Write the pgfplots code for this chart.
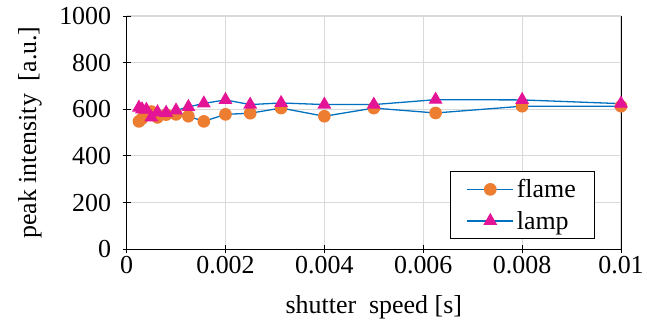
\documentclass[border=0pt]{standalone}
\usepackage{pgfplots}
\pgfplotsset{compat=1.18}
\usepackage{fontspec}
\setmainfont{Liberation Serif}
\newfontfamily\tnr{Liberation Serif}
\definecolor{lineblue}{RGB}{0,112,192}
\definecolor{flameor}{RGB}{237,125,49}
\definecolor{lampmag}{RGB}{228,20,150}
\definecolor{gridgray}{RGB}{217,217,217}
\newcommand{\xl}[1]{\raisebox{-6pt}{#1}}
\newcommand{\yl}[1]{#1\hspace*{8pt}}
\pgfplotsset{mylegend/.style={legend image code/.code={\draw[mark repeat=2,mark phase=2,##1] plot coordinates {(0pt,0pt) (23pt,0pt) (46pt,0pt)};}}}
\begin{document}
\begin{tikzpicture}
\begin{axis}[
  name=a,
  scale only axis,
  width=496pt, height=234pt,
  xmin=0, xmax=0.01, ymin=0, ymax=1000,
  xtick pos=left, ytick pos=left,
  xtick={0,0.002,0.004,0.006,0.008,0.01},
  xticklabels={\xl{0},\xl{0.002},\xl{0.004},\xl{0.006},\xl{0.008},\xl{0.01}},
  ytick={0,200,400,600,800,1000},
  yticklabels={\yl{0},\yl{200},\yl{400},\yl{600},\yl{800},\yl{1000}},
  scaled x ticks=false,
  tick align=center, major tick length=8pt,
  tick style={black, line width=0.8pt},
  axis line style={draw=none},
  grid=major, major grid style={gridgray, line width=1.2pt},
  font=\tnr\fontsize{26}{30}\selectfont,
  every tick label/.append style={font=\tnr\fontsize{26}{30}\selectfont},
  xlabel={shutter\ \ speed [s]},
  ylabel={peak intensity\ \ [a.u.]},
  xlabel style={at={(axis description cs:0.5,0)}, anchor=north, inner sep=0pt, yshift=-46pt},
  ylabel style={at={(axis description cs:0,0.5)}, anchor=south, inner sep=0pt, yshift=85pt},
  legend style={at={(axis cs:0.00948,43)}, anchor=south east, draw=black, line width=1pt,
    font=\tnr\fontsize{26}{30}\selectfont, row sep=10pt, inner xsep=16pt, inner ysep=7pt, fill=white,
    nodes={inner xsep=3pt, inner ysep=1pt}},
  legend cell align=left,
  clip=false,
]
\draw[black, line width=1pt] (axis cs:0,1000) -- (axis cs:0,0) -- (axis cs:0.01,0) -- (axis cs:0.01,1000);
\addplot[lineblue, line width=1.3pt, mark=*, mark size=5.7pt, mark options={draw=flameor, fill=flameor}, mylegend]
coordinates {
(0.00025,548) (0.0003125,560) (0.0004,585) (0.0005,590) (0.000625,565) (0.0008,577)
(0.001,578) (0.00125,570) (0.0015625,548) (0.002,578) (0.0025,583) (0.003125,605)
(0.004,570) (0.005,605) (0.00625,584) (0.008,613) (0.01,613)
};
\addlegendentry{flame}
\addplot[lineblue, line width=1.3pt, mark=triangle*, mark size=6.8pt, mark options={draw=lampmag, fill=lampmag}, mylegend]
coordinates {
(0.00025,607) (0.0003125,600) (0.0004,598) (0.0005,565) (0.000625,587) (0.0008,585)
(0.001,595) (0.00125,610) (0.0015625,625) (0.002,640) (0.0025,620) (0.003125,627)
(0.004,620) (0.005,620) (0.00625,641) (0.008,640) (0.01,624)
};
\addlegendentry{lamp}
\end{axis}
\path (a.south west) ++(-127pt,-81pt) rectangle ++(647pt,331pt);
\end{tikzpicture}
\end{document}
